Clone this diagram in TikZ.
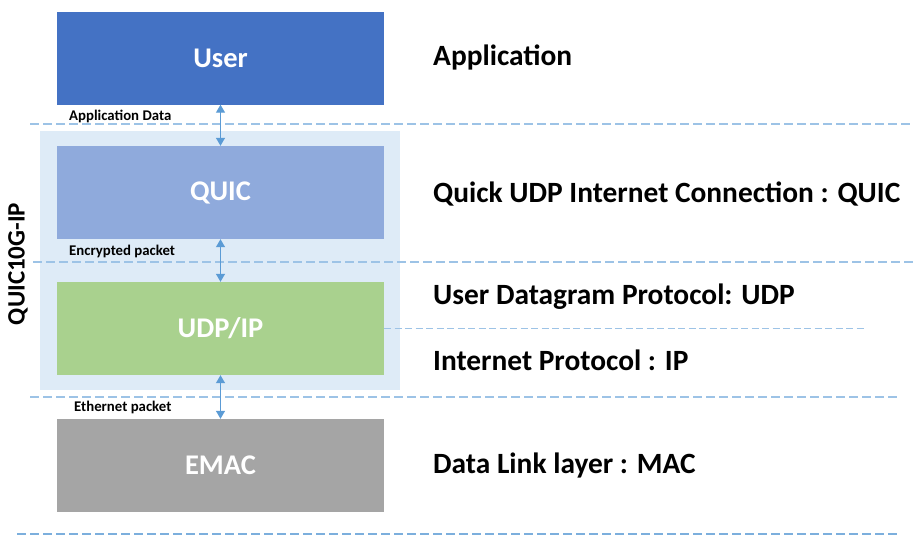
\documentclass[tikz,border=0pt]{standalone}
\usepackage{fontspec}
\setmainfont{Carlito}
\usepackage{tikz}
\usetikzlibrary{arrows.meta}
\definecolor{userblue}{HTML}{4472C4}
\definecolor{quicblue}{HTML}{8FAADC}
\definecolor{udpgreen}{HTML}{A9D18E}
\definecolor{emacgray}{HTML}{A5A5A5}
\definecolor{coreblue}{HTML}{DEEBF7}
\definecolor{lineblue}{HTML}{9DC3E6}
\definecolor{arrowblue}{HTML}{5B9BD5}
\tikzstyle{stack}=[
  x=1pt, y=-1pt, font=\bfseries
]
\tikzstyle{layerbox}=[
  rectangle, inner sep=0pt, minimum width=327pt, minimum height=93pt,
  text=white, font=\fontsize{28.5}{30}\selectfont\bfseries
]
\tikzstyle{layername}=[
  anchor=base west, inner sep=0pt, font=\fontsize{29.4}{32}\selectfont\bfseries
]
\tikzstyle{pkt}=[
  anchor=base west, inner sep=0pt, font=\fontsize{14.8}{16}\selectfont\bfseries
]
\tikzstyle{divider}=[
  draw=lineblue, line width=1.2pt, dash pattern=on 9pt off 4pt
]
\tikzstyle{link}=[
  {Triangle[width=9pt,length=8pt]}-{Triangle[width=9pt,length=8pt]},
  draw=arrowblue, line width=1.2pt
]
\begin{document}
\begin{tikzpicture}[stack]
        \useasboundingbox (0, 0) rectangle (914, 546);
        \node (core) at (220, 260.5) [rectangle, fill=coreblue, minimum width=360pt, minimum height=259pt] {};

        % layer separators
        \draw [divider] (30, 124) -- (914, 124);
        \draw [divider] (33, 262) -- (914, 262);
        \draw [divider] (30, 397) -- (900, 397);
        \draw [divider, draw=arrowblue!80] (17, 534) -- (897, 534);

        \node (user) at (220.5, 58) [layerbox, fill=userblue] {User};
        \node (quic) at (220.5, 192.5) [layerbox, fill=quicblue] {QUIC};
        \node (udp) at (220.5, 328.5) [layerbox, fill=udpgreen] {UDP/IP};
        \node (emac) at (220.5, 465.5) [layerbox, fill=emacgray] {EMAC};

        \draw [divider, line width=1pt, dash pattern=on 7pt off 3.5pt] (udp.east) -- ++(482, 0);

        \draw [link] (user) -- (quic);
        \draw [link] (quic) -- (udp);
        \draw [link] (udp) -- (emac);

        \node (appdata) at (69, 120) [pkt] {Application Data};
        \node (encpkt) at (69, 255) [pkt] {Encrypted packet};
        \node (ethpkt) at (74, 411) [pkt] {Ethernet packet};

        \node (corename) at (18, 264) [rotate=90, inner sep=0pt, font=\fontsize{25}{28}\selectfont\bfseries] {QUIC10G-IP};

        \node (lapp) at (433, 65) [layername] {Application};
        \node (lquic) at (433, 202) [layername] {Quick UDP Internet Connection : QUIC};
        \node (ludp) at (433, 304) [layername] {User Datagram Protocol: UDP};
        \node (lip) at (433, 370) [layername] {Internet Protocol : IP};
        \node (lmac) at (433, 473) [layername] {Data Link layer : MAC};
\end{tikzpicture}
\end{document}
